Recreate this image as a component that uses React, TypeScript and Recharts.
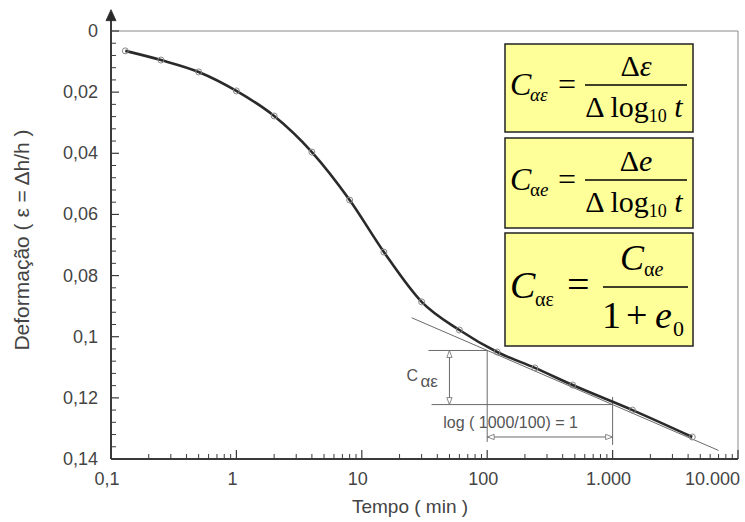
import React from 'react';
import { LineChart, Line, XAxis, YAxis, ReferenceLine } from 'recharts';

// consolidation test readings (time in min, strain)
const times = [0.13, 0.25, 0.5, 1, 2, 4, 8, 15, 30, 60, 120, 240, 480, 1440, 4320];
const strains = [0.0065, 0.0095, 0.0134, 0.0196, 0.0278, 0.0396, 0.0553, 0.0723, 0.0886, 0.0978, 0.105, 0.1102, 0.1158, 0.124, 0.1328];

// secondary compression tangent
const tangentTimes = [25, 7000];
const tangentStrains = [0.0938, 0.1372];

// slope construction between t = 100 and t = 1000
const slopeTimes = [100, 1000];
const slopeStrains = [0.1045, 0.1222];

const xMajorTicks = [0.1, 1, 10, 100, 1000, 10000];
const xTickLabels = ['0,1', '1', '10', '100', '1.000', '10.000'];
const yMajorTicks = [0, 0.02, 0.04, 0.06, 0.08, 0.1, 0.12, 0.14];
const yTickLabels = ['0', '0,02', '0,04', '0,06', '0,08', '0,1', '0,12', '0,14'];

const curve = times.map((t, i) => ({ t, e: strains[i] }));
const tangent = tangentTimes.map((t, i) => ({ t, e: tangentStrains[i] }));

const xMinor: number[] = [];
xMajorTicks.slice(0, -1).forEach(d => {
  for (let k = 2; k <= 9; k++) xMinor.push(d * k);
});
const yMinor: number[] = [];
for (let i = 1; i < 35; i++) if (i % 5 !== 0) yMinor.push(i * 0.004);

const xTicks = [...xMajorTicks, ...xMinor].sort((a, b) => a - b);
const yTicks = [...yMajorTicks, ...yMinor].sort((a, b) => a - b);

const sans = '"Liberation Sans", Arial, sans-serif';
const serif = '"Liberation Serif", "Times New Roman", serif';
const ink = '#3a3a3a';
const thin = '#6a6a6a';

const XTick = (props: any) => {
  const { x, y, payload } = props;
  const idx = xMajorTicks.indexOf(payload.value);
  if (idx < 0) return <line x1={x} x2={x} y1={y} y2={y - 5} stroke={ink} strokeWidth={1} />;
  const last = idx === xMajorTicks.length - 1;
  return (
    <g>
      <line x1={x} x2={x} y1={y} y2={y - 9} stroke={ink} strokeWidth={1.2} />
      <text x={last ? x + 2 : x - 4} y={y + 26} textAnchor={last ? 'end' : 'middle'}
        fontFamily={sans} fontSize={18} fill="#444">{xTickLabels[idx]}</text>
    </g>
  );
};

const YTick = (props: any) => {
  const { x, y, payload } = props;
  const idx = yMajorTicks.indexOf(payload.value);
  if (idx < 0) return <line x1={x} x2={x + 5} y1={y} y2={y} stroke={ink} strokeWidth={1} />;
  return (
    <g>
      <line x1={x} x2={x + 8} y1={y} y2={y} stroke={ink} strokeWidth={1.2} />
      <text x={x - 13} y={y + 6} textAnchor="end" fontFamily={sans} fontSize={18} fill="#444">{yTickLabels[idx]}</text>
    </g>
  );
};

const head = (x: number, y: number, ang: number, filled = false) => {
  const len = filled ? 11 : 7;
  const w = filled ? 5 : 2.6;
  const bx = x - len * Math.cos(ang);
  const by = y - len * Math.sin(ang);
  const px = -Math.sin(ang) * w;
  const py = Math.cos(ang) * w;
  return (
    <polygon points={`${x},${y} ${bx + px},${by + py} ${bx - px},${by - py}`}
      fill={filled ? '#2a2a2a' : '#fff'} stroke={filled ? '#2a2a2a' : thin} strokeWidth={0.8} />
  );
};

const AxisArrow = (p: any) => (
  <g>
    <line x1={p.x1} y1={p.y1} x2={p.x2} y2={p.y2} stroke={ink} strokeWidth={2} />
    {head(p.x2, p.y2 - 3, -Math.PI / 2, true)}
  </g>
);

const VArrow = (p: any) => {
  const top = Math.min(p.y1, p.y2);
  const bot = Math.max(p.y1, p.y2);
  const mid = (top + bot) / 2;
  return (
    <g>
      <line x1={p.x1} y1={top} x2={p.x2} y2={bot} stroke={thin} strokeWidth={1} />
      {head(p.x1, top, -Math.PI / 2)}
      {head(p.x1, bot, Math.PI / 2)}
      <text x={p.x1 - 43} y={mid + 3} fontFamily={sans} fontSize={16} fill="#555">C</text>
      <text x={p.x1 - 29} y={mid + 9} fontFamily={sans} fontSize={17} fill="#555">αε</text>
    </g>
  );
};

const HArrow = (p: any) => (
  <g>
    <line x1={p.x1} y1={p.y1} x2={p.x2} y2={p.y2} stroke={thin} strokeWidth={1} />
    {head(Math.min(p.x1, p.x2), p.y1, Math.PI)}
    {head(Math.max(p.x1, p.x2), p.y1, 0)}
    <text x={Math.min(p.x1, p.x2) - 44} y={p.y1 - 9} fontFamily={sans} fontSize={16} fill="#555">log ( 1000/100) = 1</text>
  </g>
);

const Formulas = () => (
  <svg width={745} height={522} style={{ position: 'absolute', left: 0, top: 0, pointerEvents: 'none' }}>
    {/* box 1 */}
    <rect x={505} y={44} width={188} height={88} fill="#FFFF99" stroke="#222" strokeWidth={1.5} />
    <text x={510} y={95} fontFamily={serif} fontSize={32} fontStyle="italic">C</text>
    <text x={530} y={101} fontFamily={serif} fontSize={19} fontStyle="italic">αε</text>
    <text x={558} y={95} fontFamily={serif} fontSize={32}>=</text>
    <line x1={585} x2={687} y1={85} y2={85} stroke="#000" strokeWidth={1.3} />
    <text x={636} y={76} textAnchor="middle" fontFamily={serif} fontSize={30}>Δ<tspan fontStyle="italic">ε</tspan></text>
    <text x={634} y={117} textAnchor="middle" fontFamily={serif} fontSize={30}>
      Δ log<tspan fontSize={18} dy={5}>10</tspan><tspan dy={-5} fontStyle="italic"> t</tspan>
    </text>
    {/* box 2 */}
    <rect x={505} y={138} width={188} height={90} fill="#FFFF99" stroke="#222" strokeWidth={1.5} />
    <text x={510} y={190} fontFamily={serif} fontSize={32} fontStyle="italic">C</text>
    <text x={530} y={196} fontFamily={serif} fontSize={19}>α<tspan fontStyle="italic">e</tspan></text>
    <text x={558} y={190} fontFamily={serif} fontSize={32}>=</text>
    <line x1={585} x2={687} y1={180} y2={180} stroke="#000" strokeWidth={1.3} />
    <text x={636} y={171} textAnchor="middle" fontFamily={serif} fontSize={30}>Δ<tspan fontStyle="italic">e</tspan></text>
    <text x={634} y={212} textAnchor="middle" fontFamily={serif} fontSize={30}>
      Δ log<tspan fontSize={18} dy={5}>10</tspan><tspan dy={-5} fontStyle="italic"> t</tspan>
    </text>
    {/* box 3 */}
    <rect x={505} y={233} width={188} height={113} fill="#FFFF99" stroke="#222" strokeWidth={1.5} />
    <text x={510} y={298} fontFamily={serif} fontSize={38} fontStyle="italic">C</text>
    <text x={535} y={306} fontFamily={serif} fontSize={20}>αε</text>
    <text x={567} y={298} fontFamily={serif} fontSize={40}>=</text>
    <line x1={603} x2={688} y1={287} y2={287} stroke="#000" strokeWidth={1.3} />
    <text x={620} y={270} fontFamily={serif} fontSize={36} fontStyle="italic">C</text>
    <text x={644} y={276} fontFamily={serif} fontSize={20}>α<tspan fontStyle="italic">e</tspan></text>
    <text x={602} y={328} fontFamily={serif} fontSize={38}>1</text>
    <text x={626} y={328} fontFamily={serif} fontSize={38}>+</text>
    <text x={655} y={328} fontFamily={serif} fontSize={38} fontStyle="italic">e</text>
    <text x={673} y={336} fontFamily={serif} fontSize={22}>0</text>
  </svg>
);

export default function App() {
  return (
    <div style={{ position: 'absolute', left: 0, top: 0, width: 745, height: 522, background: '#fff' }}>
      <LineChart width={745} height={522} data={curve} margin={{ top: 31, right: 7, bottom: 0, left: 0 }}>
        <XAxis dataKey="t" type="number" scale="log" domain={[0.1, 10000]} allowDataOverflow
          ticks={xTicks} interval={0} tickSize={0} tickMargin={0} height={63}
          tick={<XTick />} axisLine={{ stroke: ink, strokeWidth: 2 }} tickLine={false} />
        <YAxis type="number" domain={[0, 0.14]} reversed allowDataOverflow
          ticks={yTicks} interval={0} tickSize={0} tickMargin={0} width={111}
          tick={<YTick />} axisLine={{ stroke: ink, strokeWidth: 2 }} tickLine={false} />
        <ReferenceLine y={0} stroke="#8a8a8a" strokeWidth={1} />
        <ReferenceLine x={10000} stroke="#8a8a8a" strokeWidth={1} />
        <ReferenceLine segment={[{ x: 0.1, y: 0 }, { x: 0.1, y: -0.006 }]} ifOverflow="visible" shape={<AxisArrow />} />
        <ReferenceLine segment={[{ x: 34, y: slopeStrains[0] }, { x: slopeTimes[0], y: slopeStrains[0] }]} stroke={thin} strokeWidth={1} />
        <ReferenceLine segment={[{ x: 36, y: slopeStrains[1] }, { x: slopeTimes[1], y: slopeStrains[1] }]} stroke={thin} strokeWidth={1} />
        <ReferenceLine segment={[{ x: slopeTimes[0], y: slopeStrains[0] }, { x: slopeTimes[0], y: 0.1344 }]} stroke={thin} strokeWidth={1} />
        <ReferenceLine segment={[{ x: slopeTimes[1], y: 0.1197 }, { x: slopeTimes[1], y: 0.1354 }]} stroke={thin} strokeWidth={1} />
        <ReferenceLine segment={[{ x: 50, y: slopeStrains[0] }, { x: 50, y: slopeStrains[1] }]} shape={<VArrow />} />
        <ReferenceLine segment={[{ x: slopeTimes[0], y: 0.1328 }, { x: slopeTimes[1], y: 0.1328 }]} shape={<HArrow />} />
        <Line data={tangent} dataKey="e" type="linear" stroke={thin} strokeWidth={1} dot={false} isAnimationActive={false} />
        <Line data={curve} dataKey="e" type="monotone" stroke="#2a2a2a" strokeWidth={2.6}
          dot={{ r: 3, fill: 'none', stroke: '#888', strokeWidth: 1 }} isAnimationActive={false} />
      </LineChart>
      <div style={{ position: 'absolute', left: 22, top: 240, transform: 'translate(-50%, -50%) rotate(-90deg)', whiteSpace: 'nowrap', fontFamily: sans, fontSize: 21, color: '#444' }}>
        Deformação ( ε = Δh/h )
      </div>
      <div style={{ position: 'absolute', left: 410, top: 507, transform: 'translate(-50%, -50%)', whiteSpace: 'nowrap', fontFamily: sans, fontSize: 19, color: '#444' }}>
        Tempo ( min )
      </div>
      <Formulas />
    </div>
  );
}
